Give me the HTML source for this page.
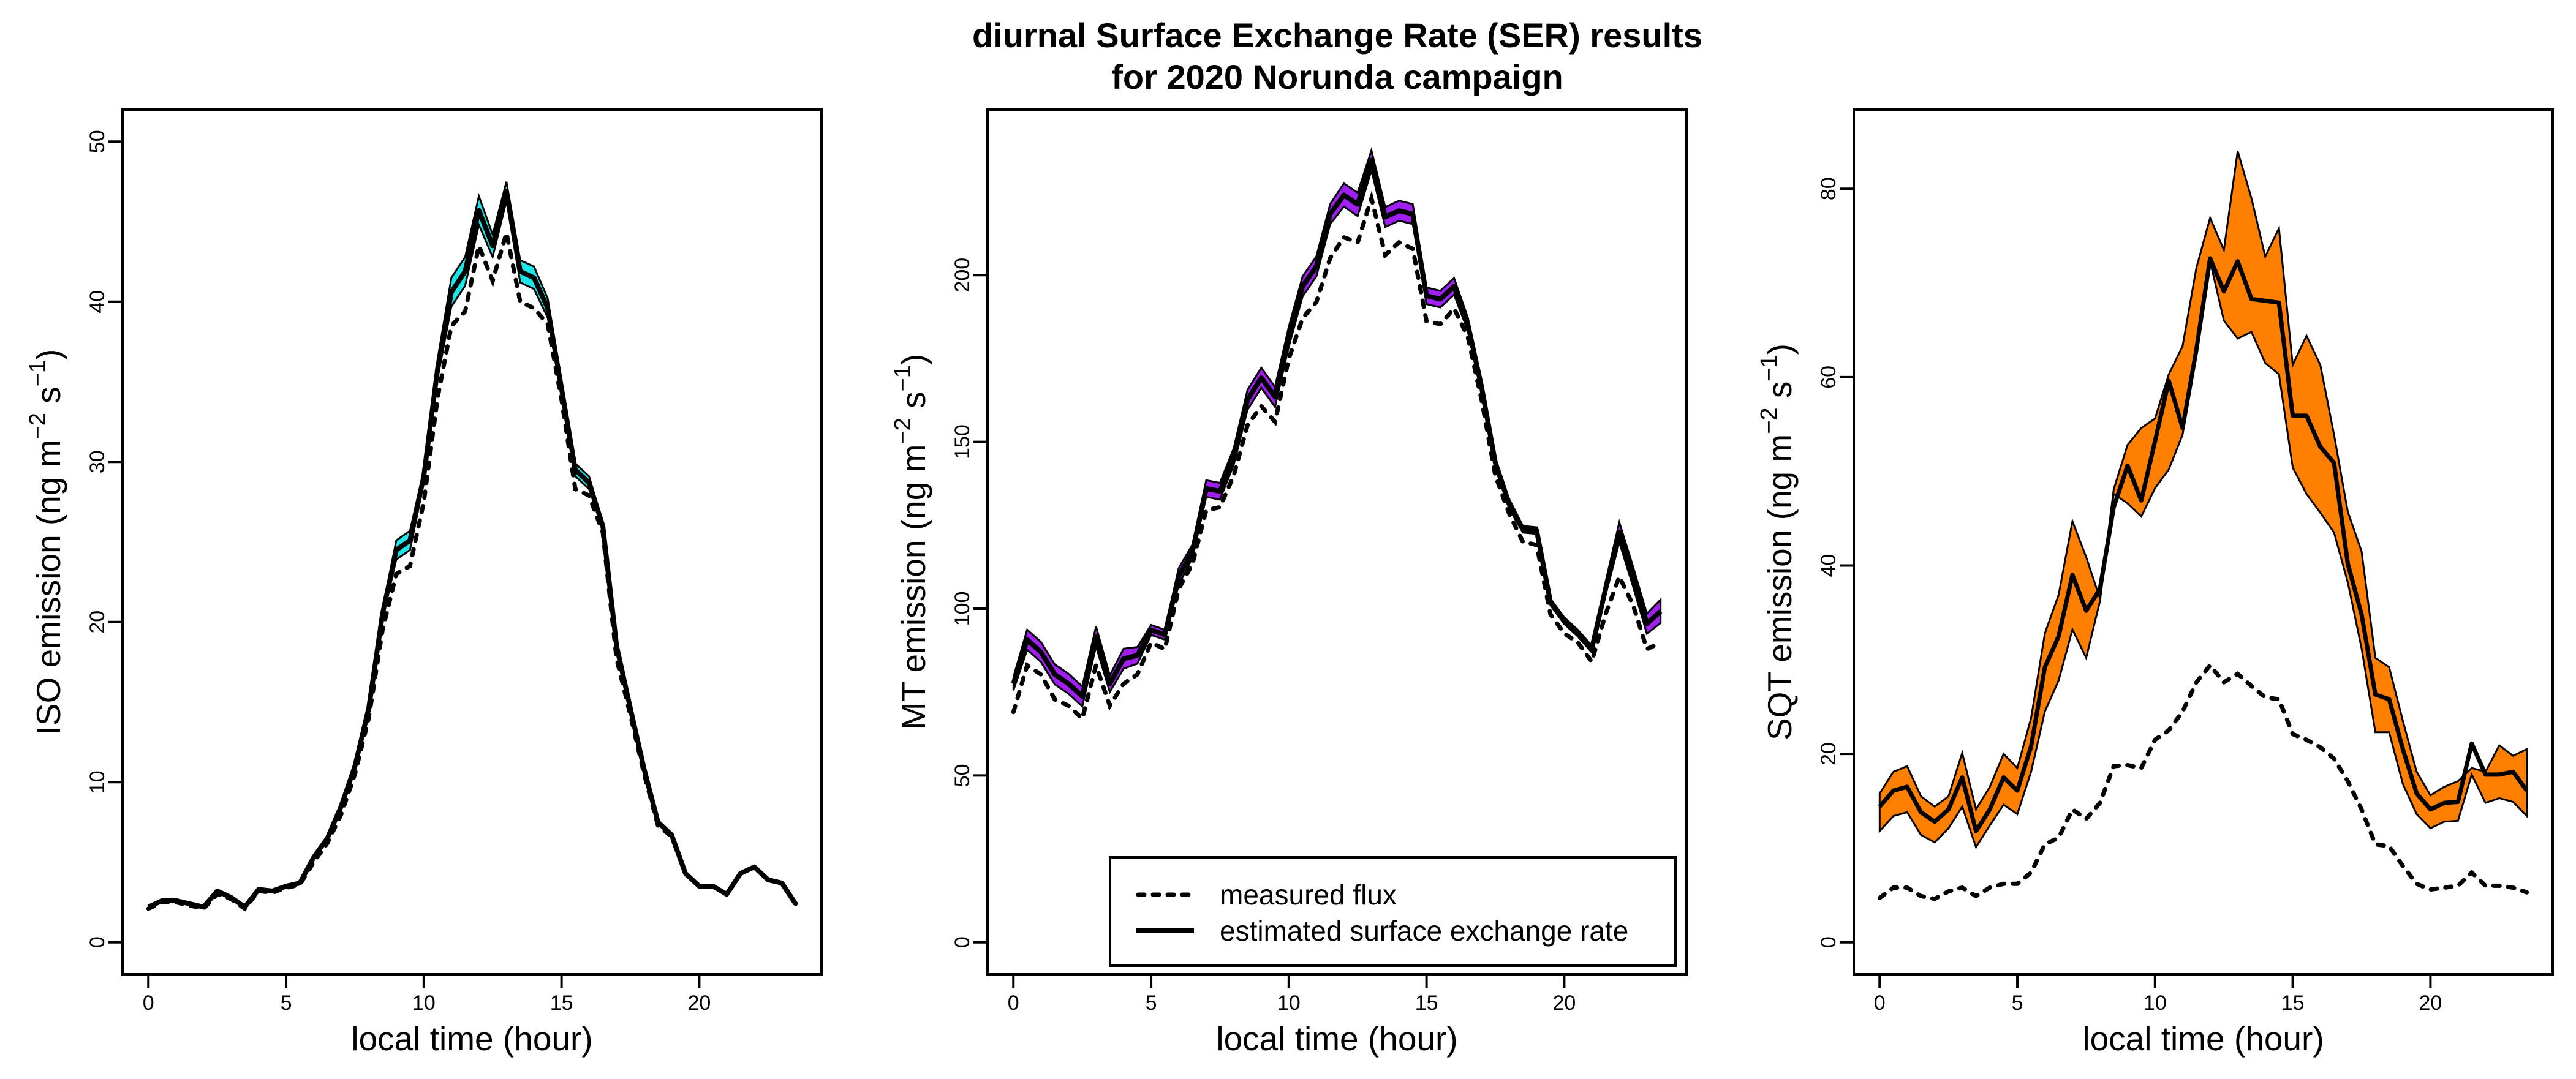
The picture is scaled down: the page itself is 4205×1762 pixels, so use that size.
<!DOCTYPE html>
<html><head><meta charset="utf-8"><style>
html,body{margin:0;padding:0;background:#fff;}
svg{display:block;font-family:"Liberation Sans",Arial,sans-serif;}
</style></head><body>
<svg id="fig" width="4205" height="1762" viewBox="0 0 4205 1762" xmlns="http://www.w3.org/2000/svg">
<rect width="4205" height="1762" fill="#fff"/>
<text x="2183" y="77" text-anchor="middle" font-size="56" font-weight="bold">diurnal Surface Exchange Rate (SER) results</text>
<text x="2183" y="145" text-anchor="middle" font-size="56" font-weight="bold">for 2020 Norunda campaign</text>
</svg>
<script>
const hours = [0,0.5,1,1.5,2,2.5,3,3.5,4,4.5,5,5.5,6,6.5,7,7.5,8,8.5,9,9.5,10,10.5,11,11.5,12,12.5,13,13.5,14,14.5,15,15.5,16,16.5,17,17.5,18,18.5,19,19.5,20,20.5,21,21.5,22,22.5,23,23.5];
const xTicks = [0,5,10,15,20];

const isoEst = [2.2,2.6,2.6,2.4,2.2,3.2,2.8,2.2,3.3,3.2,3.5,3.7,5.3,6.5,8.5,11,14.6,20.5,24.5,25.1,29.1,35.8,40.6,41.9,45.7,43.5,46.9,41.9,41.5,39.6,34.6,29.5,28.7,26,18.5,14.6,10.8,7.5,6.7,4.3,3.5,3.5,3.0,4.3,4.7,3.9,3.7,2.4];
const isoUp  = [2.2,2.6,2.6,2.4,2.2,3.2,2.8,2.2,3.3,3.2,3.5,3.7,5.3,6.5,8.6,11.1,14.8,20.8,25.1,25.7,29.5,36.4,41.5,42.8,46.6,44.2,47.5,42.6,42.2,40.2,35.0,29.9,29.1,26.2,18.6,14.7,10.9,7.5,6.7,4.3,3.5,3.5,3.0,4.3,4.7,3.9,3.7,2.4];
const isoLo  = [2.2,2.6,2.6,2.4,2.2,3.2,2.8,2.2,3.3,3.2,3.5,3.7,5.3,6.5,8.4,10.9,14.4,20.2,23.9,24.5,28.7,35.2,39.7,41.0,44.8,42.8,46.3,41.2,40.8,39.0,34.2,29.1,28.3,25.8,18.4,14.5,10.7,7.5,6.7,4.3,3.5,3.5,3.0,4.3,4.7,3.9,3.7,2.4];
const isoMeas = [2.1,2.5,2.5,2.3,2.1,3.0,2.7,2.1,3.2,3.1,3.4,3.6,5.0,6.2,8.0,10.5,14.0,19.5,23.0,23.5,27.5,34.0,38.5,39.4,43.5,41.3,44.3,40.0,39.6,38.6,33.9,28.3,27.9,25.6,17.7,14.2,10.5,7.3,6.6,4.3,3.5,3.5,3.0,4.3,4.7,3.9,3.7,2.4];
const isoTicks = [0,10,20,30,40,50];

const mtEst = [77.5,90.7,87,80.3,77.5,73.7,91.7,77.5,85,86,93.6,92.2,109.6,117.2,136,135.2,145.6,162.6,169.2,163.5,181.5,196.6,202.6,218.3,224,221.2,234.4,217.4,219.3,218.3,193.8,192.8,196.6,185.3,166.4,143.7,131.4,123.8,123.4,102,96.4,92.6,87.9,105.9,122.9,109.6,95.5,99.2];
const mtUp  = [79.5,93.7,90,83.3,80.5,76.7,94.7,80,88,88.5,95.1,93.7,112.1,119.2,138.5,137.7,148.1,165.6,172.2,166.5,184.5,199.6,205.6,221.3,227.5,224.7,237.4,220.4,222.3,221.3,196.3,195.3,199.1,187.3,168.4,145.2,132.9,124.8,124.4,103,97.4,93.6,88.9,107.9,125.9,112.6,98.5,102.7];
const mtLo  = [75.5,87.7,84,77.3,74.5,70.7,88.7,75,82,83.5,92.1,90.7,107.1,115.2,133.5,132.7,143.1,159.6,166.2,160.5,178.5,193.6,199.6,215.3,220.5,217.7,231.4,214.4,216.3,215.3,191.3,190.3,194.1,183.3,164.4,142.2,129.9,122.8,122.4,101,95.4,91.6,86.9,103.9,119.9,106.6,92.5,95.7];
const mtMeas = [69,83,80.3,72.8,70.9,67,83,70.9,77.5,80.3,89.8,87.9,105.9,113.4,129.5,130.4,139.9,155,160.7,156,174.9,187.1,191.9,205.1,211.3,209.8,223,206,209.8,207.9,186.2,185.3,190,181.5,162.6,139.9,128.5,120,119.1,98.3,92.6,89.8,84.1,98.3,109.6,101.1,87.9,89.8];
const mtTicks = [0,50,100,150,200];

const sqtEst = [14.4,16.1,16.5,13.8,12.8,14.1,17.5,11.8,14.1,17.5,16.1,20.8,29.2,32.5,39,35.2,37.5,46.2,50.6,46.9,53.2,59.6,54.6,62.9,72.6,69.1,72.3,68.3,68.1,67.9,55.9,55.9,52.6,50.9,40.2,34.8,26.3,25.8,20.5,15.8,14.1,14.8,14.9,21.1,17.8,17.8,18.1,16.1];
const sqtUp  = [15.8,18.1,18.7,15.5,14.4,15.5,20.1,14.1,16.5,20,18.5,23.8,32.8,36.9,44.7,40.9,36.5,48.1,52.8,54.6,55.6,60.3,63.3,71.6,76.9,73.5,84,79,72.8,75.8,61.3,64.4,61.3,53.9,45.7,41.5,30.2,29.2,23.5,18.1,15.6,16.5,17.1,18.5,18.1,20.9,19.8,20.5];
const sqtLo  = [11.8,13.4,13.8,11.4,10.6,12.1,14.4,10.1,12.4,14.6,13.6,18.1,24.5,27.8,33.2,30.2,36.2,47.6,46.6,45.2,48.2,50.2,53.9,62.5,72.3,66,64.1,64.8,61.5,60.3,50.4,47.6,45.6,43.5,38.2,31.2,22.3,22.3,16.8,13.6,12.1,12.8,12.9,17.8,14.8,15.3,14.9,13.4];
const sqtMeas = [4.7,5.8,5.8,4.9,4.6,5.4,5.8,4.9,5.8,6.2,6.2,7.4,10.4,11.1,14.1,13.1,14.8,18.7,18.8,18.5,21.5,22.5,24.5,27.6,29.4,27.6,28.5,27.2,26,25.8,22.1,21.5,20.7,19.5,17.1,14.1,10.4,10.2,8.1,6.2,5.6,5.8,6,7.4,6,6,5.8,5.3];
const sqtTicks = [0,20,40,60,80];

const NS = "http://www.w3.org/2000/svg";
const svg = document.getElementById('fig');
function mk(tag, attrs, parent){
  const e = document.createElementNS(NS, tag);
  for (const k in attrs) e.setAttribute(k, attrs[k]);
  (parent||svg).appendChild(e);
  return e;
}
const BOX_TOP = 179, BOX_BOT = 1591, BOX_W = 1141;

function panel(cfg){
  const g = mk('g', {});
  
  
  const left = cfg.left, right = left + BOX_W;
  const xr = BOX_W / (23.5 * 1.08);
  const x0 = left + 0.94 * xr;
  const X = h => x0 + h * xr;
  const yr = (BOX_BOT - BOX_TOP) / (cfg.ymax * 1.08);
  const Y = v => BOX_BOT - 0.04 * cfg.ymax * yr - v * yr;

  let pts = hours.map((h,i)=>X(h).toFixed(1)+','+Y(cfg.up[i]).toFixed(1));
  for (let i = hours.length-1; i>=0; i--) pts.push(X(hours[i]).toFixed(1)+','+Y(cfg.lo[i]).toFixed(1));
  const band = mk('polygon', {points: pts.join(' '), fill: cfg.color, stroke:'#000', 'stroke-width':3, 'stroke-linejoin':'miter'}, g);
  
  

  const meas = mk('polyline', {points: hours.map((h,i)=>X(h).toFixed(1)+','+Y(cfg.meas[i]).toFixed(1)).join(' '), fill:'none', stroke:'#000', 'stroke-width':7, 'stroke-dasharray':'10 14', 'stroke-linecap':'round'}, g);
  
  

  const est = mk('polyline', {points: hours.map((h,i)=>X(h).toFixed(1)+','+Y(cfg.est[i]).toFixed(1)).join(' '), fill:'none', stroke:'#000', 'stroke-width':cfg.lw, 'stroke-linejoin':'round'}, g);
  
  

  const box = mk('rect', {x:left, y:BOX_TOP, width:BOX_W, height:BOX_BOT-BOX_TOP, fill:'none', stroke:'#000', 'stroke-width':4}, g);
  
  

  const xa = mk('g', {}, g);
  
  
  mk('line', {x1:X(xTicks[0]), x2:X(xTicks[xTicks.length-1]), y1:BOX_BOT, y2:BOX_BOT, stroke:'#000','stroke-width':4}, xa);
  xTicks.forEach(t=>{
    mk('line', {x1:X(t), x2:X(t), y1:BOX_BOT, y2:BOX_BOT+22, stroke:'#000','stroke-width':4}, xa);
    const tl = mk('text', {x:X(t), y:1649, 'text-anchor':'middle', 'font-size':34}, xa);
    tl.textContent = t;
    
    
  });
  const xt = mk('text', {x:(left+right)/2, y:1715, 'text-anchor':'middle', 'font-size':55}, g);
  xt.textContent = 'local time (hour)';
  
  

  const ya = mk('g', {}, g);
  
  
  mk('line', {x1:left, x2:left, y1:Y(cfg.ticks[0]), y2:Y(cfg.ticks[cfg.ticks.length-1]), stroke:'#000','stroke-width':4}, ya);
  cfg.ticks.forEach(t=>{
    mk('line', {x1:left-23, x2:left, y1:Y(t), y2:Y(t), stroke:'#000','stroke-width':4}, ya);
    const tx = left - 30, ty = Y(t);
    const tl = mk('text', {x:tx, y:ty, 'text-anchor':'middle', 'font-size':34, transform:`rotate(-90 ${tx} ${ty})`}, ya);
    tl.textContent = t;
    
    
  });
  const lx = left - 102, ly = (BOX_TOP+BOX_BOT)/2;
  const yt = mk('text', {x:lx, y:ly, 'text-anchor':'middle', 'font-size':55, transform:`rotate(-90 ${lx} ${ly})`}, g);
  
  
  const parts = [[cfg.label + ' emission (ng m',0,55],['\u22122',-24,38],[' s',24,55],['\u22121',-24,38],[')',24,55]];
  parts.forEach(p=>{
    const ts = mk('tspan', {dy:p[1], 'font-size':p[2]}, yt);
    ts.textContent = p[0];
  });
}

panel({name:'iso', left:200, ymax:50, ticks:isoTicks, est:isoEst, up:isoUp, lo:isoLo, meas:isoMeas, color:'#1ee6e6', lw:8, label:'ISO'});
panel({name:'mt', left:1612, ymax:240, ticks:mtTicks, est:mtEst, up:mtUp, lo:mtLo, meas:mtMeas, color:'#a020f0', lw:8, label:'MT'});
panel({name:'sqt', left:3026, ymax:85, ticks:sqtTicks, est:sqtEst, up:sqtUp, lo:sqtLo, meas:sqtMeas, color:'#ff8000', lw:7, label:'SQT'});

const lg = mk('g', {});


mk('rect', {x:1812, y:1400, width:923, height:177, fill:'#fff', stroke:'#000', 'stroke-width':4}, lg);
const l1 = mk('line', {x1:1858, x2:1946, y1:1461, y2:1461, stroke:'#000', 'stroke-width':7, 'stroke-dasharray':'10 14', 'stroke-linecap':'round'}, lg);


const l2 = mk('line', {x1:1855, x2:1949, y1:1520, y2:1520, stroke:'#000', 'stroke-width':8}, lg);


const t1 = mk('text', {x:1991, y:1477, 'font-size':46}, lg);
t1.textContent = 'measured flux';


const t2 = mk('text', {x:1991, y:1536, 'font-size':46}, lg);
t2.textContent = 'estimated surface exchange rate';


</script>
</body></html>
